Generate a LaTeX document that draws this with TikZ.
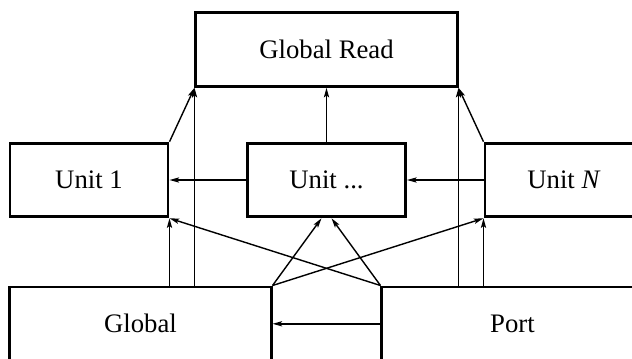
\documentclass[tikz,border=0pt]{standalone}
\usepackage{fontspec}
\setmainfont{Liberation Serif}
\usetikzlibrary{arrows.meta,calc}

\begin{document}
\begin{tikzpicture}[x=0.025cm,y=-0.025cm,
                    box node/.style={draw,line width=2.1pt,inner sep=0pt,minimum height=1.84cm,
                                     font=\fontsize{19}{23}\selectfont},
                    unit node/.style={box node,minimum width=3.95cm},
                    wide node/.style={box node,minimum width=6.525cm},
                    flow/.style={line width=1pt,-{Stealth[length=2.4mm,width=1.3mm,inset=0.5mm]}}]

      \useasboundingbox (0,0) rectangle (632,358);
      \clip (0,0) rectangle (632,358);

      % Define vertices
      \node[wide node] (read) at (326.5,49.5) {Global Read};
      \node[unit node] (u1) at (89,180) {Unit 1};
      \node[unit node] (udots) at (326.5,180) {Unit ...};
      \node[unit node] (uN) at (564,180) {Unit \textit{N}};
      \node[wide node] (global) at (140.5,323.8) {Global};
      \node[wide node] (port) at (512.5,323.8) {Port};

      % Draw edges
      \path[flow]
        (u1.north east) edge (read.south west)
        (udots.north) edge (read.south)
        (uN.north west) edge (read.south east)
        (global.north -| read.west) edge (read.south west)
        (port.north -| read.east) edge (read.south east)
        (udots.west) edge (u1.east)
        (uN.west) edge (udots.east)
        (global.north -| u1.east) edge (u1.south east)
        (port.north -| uN.west) edge (uN.south west)
        (port.north west) edge (u1.south east)
        (global.north east) edge (uN.south west)
        (global.north east) edge ($(udots.south)+(-5,0)$)
        (port.north west) edge ($(udots.south)+(5,0)$)
        (port.west) edge (global.east);

    \end{tikzpicture}
\end{document}
